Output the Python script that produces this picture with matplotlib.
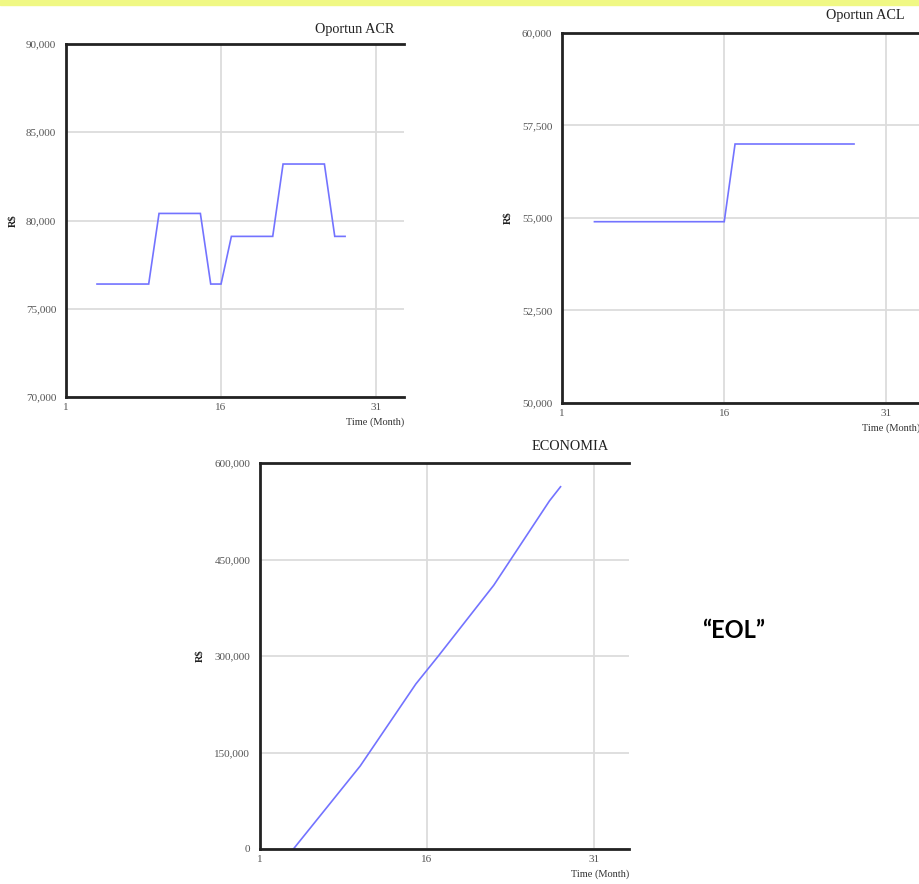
import matplotlib.pyplot as plt
from matplotlib.ticker import FuncFormatter

# monthly values (t = 4 .. 28)
months = list(range(4, 29))
acr = [76400, 76400, 76400, 76400, 76400, 76400,
       80400, 80400, 80400, 80400, 80400,
       76400, 76400,
       79100, 79100, 79100, 79100, 79100,
       83200, 83200, 83200, 83200, 83200,
       79100, 79100]
acl = [54900] * 13 + [57000] * 12
economia = [0, 21500, 43000, 64500, 86000, 107500, 129000, 154500, 180000,
            205500, 231000, 256500, 278000, 299500, 321600, 343700, 365800,
            387900, 410000, 436200, 462400, 488600, 514800, 541000, 563100]

x_ticks = [1, 16, 31]

FIG_W, FIG_H = 920, 884
LINE_COLOR = "#7373ff"
GRID_COLOR = "#dcdcdc"
SERIF = ["Liberation Serif", "DejaVu Serif"]


def px_axes(fig, box):
    # axes placed by pixel box (top-left origin)
    x0, y0, x1, y1 = box
    return fig.add_axes([x0 / FIG_W, 1 - y1 / FIG_H, (x1 - x0) / FIG_W, (y1 - y0) / FIG_H])


def vensim_panel(fig, box, t, y, title, yticks, xmax, title_xy, ylab_px):
    ax = px_axes(fig, box)
    w_px = box[2] - box[0]
    h_px = box[3] - box[1]
    ax.plot(t, y, color=LINE_COLOR, lw=1.2, solid_joinstyle="miter")
    ax.set_xlim(1, xmax)
    ax.set_ylim(yticks[0], yticks[-1])
    ax.set_xticks(x_ticks)
    ax.set_yticks(yticks)
    ax.yaxis.set_major_formatter(FuncFormatter(lambda v, p: f"{int(v):,}"))
    ax.grid(True, color=GRID_COLOR, lw=1.3)
    ax.set_axisbelow(True)
    ax.tick_params(axis="y", length=0, labelsize=8, labelcolor="#555555", pad=7)
    ax.tick_params(axis="x", length=0, labelsize=8, labelcolor="#555555", pad=4)
    for lab in ax.get_xticklabels() + ax.get_yticklabels():
        lab.set_family(SERIF)
    for s in ["left", "top", "bottom"]:
        ax.spines[s].set_linewidth(2)
        ax.spines[s].set_color("#222222")
    ax.spines["right"].set_visible(False)

    ax.set_xlabel("Time (Month)", family=SERIF, fontsize=7.5, color="#333333")
    ax.xaxis.label.set_horizontalalignment("right")
    ax.xaxis.label.set_verticalalignment("center")
    ax.xaxis.set_label_coords(1.0, -25 / h_px)

    ax.set_ylabel("R$", family=SERIF, fontsize=7.5, color="#222222", fontweight="bold")
    ax.yaxis.label.set_verticalalignment("center")
    ax.yaxis.set_label_coords((ylab_px - box[0]) / w_px, 0.5)

    fig.text(title_xy[0] / FIG_W, 1 - title_xy[1] / FIG_H, title, family=SERIF,
             fontsize=10.3, ha="right", va="center", color="#222222")
    return ax


fig = plt.figure(figsize=(FIG_W / 100, FIG_H / 100), dpi=100)

# yellow strip at the top
fig.patches.append(plt.Rectangle((0, 1 - 5 / FIG_H), 1, 5 / FIG_H,
                                 transform=fig.transFigure, color="#f0f884", zorder=0))

vensim_panel(fig, (66, 44, 404, 397), months, acr, "Oportun ACR",
             [70000, 75000, 80000, 85000, 90000], 33.7, (394, 29), 13)

vensim_panel(fig, (562, 33, 920, 403), months, acl, "Oportun ACL",
             [50000, 52500, 55000, 57500, 60000], 34.1, (905, 16), 508)

vensim_panel(fig, (260, 463, 629, 849), months, economia, "ECONOMIA",
             [0, 150000, 300000, 450000, 600000], 34.15, (609, 446), 200)

fig.text(734 / FIG_W, 1 - 630 / FIG_H, "\u201cEOL\u201d", family=["Lato", "DejaVu Sans"],
         fontsize=17, fontweight="bold", ha="center", va="center")

fig.savefig("out.png", dpi=100)
